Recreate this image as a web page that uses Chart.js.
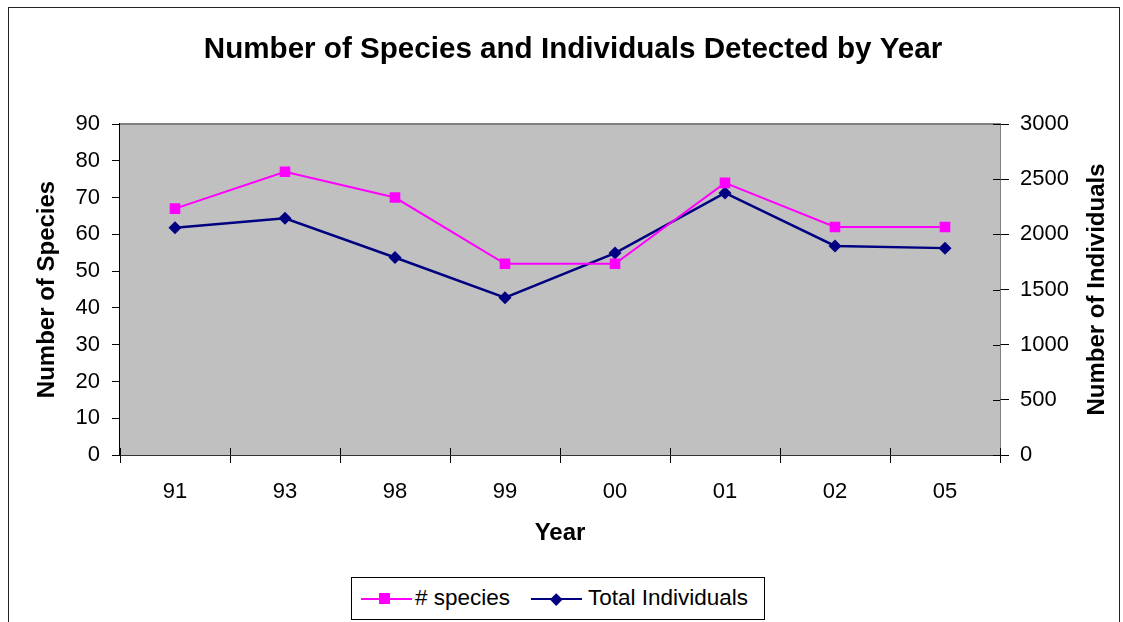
<!DOCTYPE html>
<html>
<head>
<meta charset="utf-8">
<script src="https://cdn.jsdelivr.net/npm/chart.js@4/dist/chart.umd.min.js"></script>
<style>
  html, body { margin: 0; padding: 0; background: #fff; }
  #wrap { position: relative; width: 1123px; height: 622px; overflow: hidden; font-family: "Liberation Sans", Arial, sans-serif; }
  #frame { position: absolute; left: 8px; top: 7px; width: 1112px; height: 700px; border: 1.5px solid #222; box-sizing: border-box; }
  canvas { position: absolute; left: 0; top: 0; }
  #legend { position: absolute; left: 351px; top: 577px; width: 414px; height: 43px; border: 1px solid #000; box-sizing: border-box; background: #fff; font-size: 22.5px; color: #000; }
  #legend .ln { position: absolute; top: 20px; height: 2px; width: 51px; }
  #legend .mk { position: absolute; top: 15px; width: 11px; height: 11px; }
  #legend .dm { position: absolute; top: 16.5px; width: 8.5px; height: 8.5px; transform: rotate(45deg); }
  #legend .tx { position: absolute; top: 7px; line-height: 26px; white-space: nowrap; }
</style>
</head>
<body>
<div id="wrap">
  <div id="frame"></div>
  <canvas id="chart" width="1123" height="622"></canvas>
  <div id="legend">
    <div class="ln" style="left:9px;background:#FF00FF"></div>
    <div class="mk" style="left:27px;background:#FF00FF"></div>
    <span class="tx" style="left:63px"># species</span>
    <div class="ln" style="left:179px;background:#000080"></div>
    <div class="dm" style="left:200px;background:#000080"></div>
    <span class="tx" style="left:236px">Total Individuals</span>
  </div>
</div>
<script>
// Survey years (two-digit labels)
const years = ['91', '93', '98', '99', '00', '01', '02', '05'];
// Number of species detected each year
const speciesCounts = [67, 77, 70, 52, 52, 74, 62, 62];
// Total individuals counted each year
const totalIndividuals = [2060, 2145, 1790, 1425, 1830, 2375, 1895, 1875];

const FONT = '"Liberation Sans", Arial, sans-serif';
const CHART_TITLE = 'Number of Species and Individuals Detected by Year';

// Grey plot background, frame lines, inner tick halves, chart title and right-hand axis title
const plotDecor = {
  id: 'plotDecor',
  beforeDatasetsDraw(chart) {
    const { ctx, chartArea: a } = chart;
    ctx.save();
    ctx.fillStyle = '#C0C0C0';
    ctx.fillRect(a.left, a.top, a.right - a.left, a.bottom - a.top);
    ctx.strokeStyle = '#808080';
    ctx.lineWidth = 2;
    ctx.beginPath();
    ctx.moveTo(a.left, a.top);
    ctx.lineTo(a.right, a.top);
    ctx.stroke();
    // tick marks that cross into the plot on the category axis and the right axis
    ctx.strokeStyle = '#000';
    ctx.lineWidth = 1;
    const xs = chart.scales.x;
    const step = xs.width / years.length;
    for (let i = 0; i <= years.length; i++) {
      const px = Math.round(a.left + i * step) + 0.5;
      ctx.beginPath();
      ctx.moveTo(px, a.bottom);
      ctx.lineTo(px, a.bottom - 7);
      ctx.stroke();
    }
    const ys = chart.scales.y1;
    ys.ticks.forEach(t => {
      const py = Math.round(ys.getPixelForValue(t.value)) + 0.5;
      ctx.beginPath();
      ctx.moveTo(a.right, py);
      ctx.lineTo(a.right - 7, py);
      ctx.stroke();
    });
    ctx.restore();
  },
  afterDraw(chart) {
    const { ctx, chartArea: a } = chart;
    ctx.save();
    ctx.fillStyle = '#000';
    ctx.textAlign = 'center';
    ctx.font = 'bold 29.6px ' + FONT;
    ctx.textBaseline = 'alphabetic';
    ctx.fillText(CHART_TITLE, 573, 58);
    ctx.translate(1097, (a.top + a.bottom) / 2);
    ctx.rotate(-Math.PI / 2);
    ctx.font = 'bold 24px ' + FONT;
    ctx.textBaseline = 'middle';
    ctx.fillText('Number of Individuals', 0, 0);
    ctx.restore();
  }
};

new Chart(document.getElementById('chart'), {
  type: 'line',
  data: {
    labels: years,
    datasets: [
      {
        label: '# species',
        data: speciesCounts,
        yAxisID: 'y',
        borderColor: '#FF00FF',
        backgroundColor: '#FF00FF',
        borderWidth: 2,
        pointStyle: 'rect',
        pointRadius: 7.5,
        pointBorderWidth: 0,
        tension: 0
      },
      {
        label: 'Total Individuals',
        data: totalIndividuals,
        yAxisID: 'y1',
        borderColor: '#000080',
        backgroundColor: '#000080',
        borderWidth: 2.5,
        pointStyle: 'rectRot',
        pointRadius: 6.5,
        pointBorderWidth: 0,
        tension: 0
      }
    ]
  },
  options: {
    responsive: false,
    animation: false,
    devicePixelRatio: 1,
    layout: { padding: { top: 124, left: 0, right: 0, bottom: 0 } },
    plugins: {
      legend: { display: false },
      tooltip: { enabled: false },
      title: { display: false }
    },
    scales: {
      x: {
        offset: true,
        grid: { drawOnChartArea: false, offset: true, tickLength: 8, color: '#000', lineWidth: 1 },
        border: { color: '#333', width: 2 },
        ticks: { color: '#000', font: { family: FONT, size: 22 }, padding: 15.8, maxRotation: 0 },
        title: {
          display: true, text: 'Year', color: '#000',
          font: { family: FONT, size: 24, weight: 'bold', lineHeight: 1.2 },
          padding: { top: 0, bottom: 74.6 }
        },
        afterFit(scale) { scale.height = 167; }
      },
      y: {
        position: 'left',
        min: 0, max: 90,
        ticks: { stepSize: 10, color: '#000', font: { family: FONT, size: 22 }, padding: 12 },
        grid: { drawOnChartArea: false, tickLength: 8, color: '#000', lineWidth: 1 },
        border: { color: '#000', width: 1.5 },
        title: {
          display: true, text: 'Number of Species', color: '#000',
          font: { family: FONT, size: 24, weight: 'bold', lineHeight: 1.2 },
          padding: { top: 32.6, bottom: 0 }
        },
        afterFit(scale) { scale.width = 120; }
      },
      y1: {
        position: 'right',
        min: 0, max: 3000,
        ticks: {
          stepSize: 500, color: '#000', font: { family: FONT, size: 22 }, padding: 11,
          callback: (v) => String(v)
        },
        grid: { drawOnChartArea: false, tickLength: 9, color: '#000', lineWidth: 1 },
        border: { color: '#000', width: 1.5 },
        afterFit(scale) { scale.width = 123; }
      }
    }
  },
  plugins: [plotDecor]
});
</script>
</body>
</html>
